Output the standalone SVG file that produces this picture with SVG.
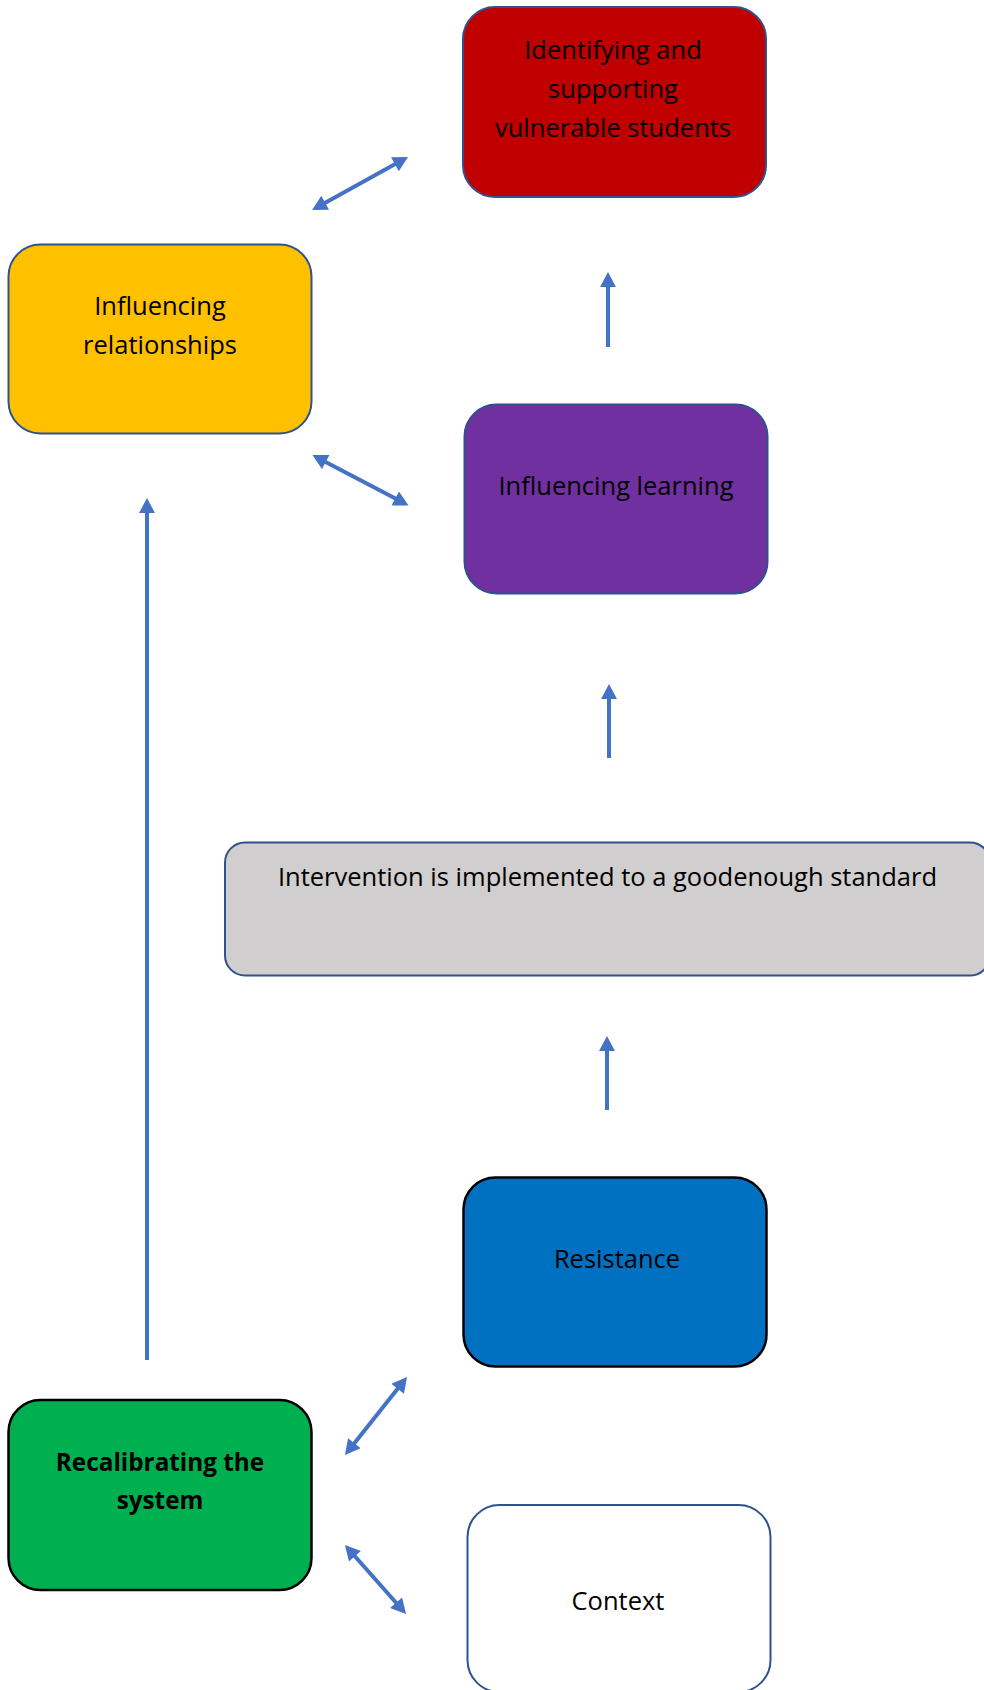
<svg xmlns="http://www.w3.org/2000/svg" width="984" height="1690" viewBox="0 0 984 1690">
<style>
.box{stroke:#2F528F;stroke-width:2}
.dark{stroke:#000;stroke-width:2.5}
.t{font-family:"Open Sans","Noto Sans",sans-serif;font-size:25.5px;fill:#000;text-anchor:middle}
.b{font-weight:bold;font-size:24.3px}
.c{stroke:#4472C4;stroke-width:4;fill:none}
</style>
<defs>
<marker id="ah" markerUnits="userSpaceOnUse" markerWidth="16" markerHeight="16" viewBox="0 0 15 16" refX="5" refY="8" orient="auto-start-reverse">
<path d="M0,0 L15,8 L0,16 z" fill="#4472C4"/>
</marker>
</defs>
<rect width="984" height="1690" fill="#fff"/>
<g id="connectors">
<line class="c" x1="320.8" y1="205.2" x2="399.3" y2="161.8" marker-start="url(#ah)" marker-end="url(#ah)"/>
<line class="c" x1="321.3" y1="459.7" x2="399.7" y2="500.8" marker-start="url(#ah)" marker-end="url(#ah)"/>
<line class="c" x1="351.2" y1="1447.2" x2="400.8" y2="1384.8" marker-start="url(#ah)" marker-end="url(#ah)"/>
<line class="c" x1="351.6" y1="1552.5" x2="399.4" y2="1606.5" marker-start="url(#ah)" marker-end="url(#ah)"/>
<line class="c" x1="608" y1="347" x2="608" y2="282" marker-end="url(#ah)"/>
<line class="c" x1="609" y1="758" x2="609" y2="694" marker-end="url(#ah)"/>
<line class="c" x1="607" y1="1110" x2="607" y2="1046" marker-end="url(#ah)"/>
<line class="c" x1="147" y1="1360" x2="147" y2="508" marker-end="url(#ah)"/>
</g>
<g id="identifying">
<rect class="box" x="463" y="7" width="303" height="190" rx="32" fill="#C00000"/>
<text class="t" x="613" y="59">Identifying and</text>
<text class="t" x="613" y="98">supporting</text>
<text class="t" x="613" y="137">vulnerable students</text>
</g>
<g id="relationships">
<rect class="box" x="8.5" y="244.5" width="303" height="189" rx="32" fill="#FFC000"/>
<text class="t" x="160" y="315">Influencing</text>
<text class="t" x="160" y="354">relationships</text>
</g>
<g id="learning">
<rect class="box" x="464.5" y="404.5" width="303" height="189" rx="32" fill="#7030A0"/>
<text class="t" x="616" y="495">Influencing learning</text>
</g>
<g id="intervention">
<rect class="box" x="225" y="842.5" width="765" height="133" rx="20" fill="#D0CECE"/>
<text class="t" x="607.5" y="886">Intervention is implemented to a goodenough standard</text>
</g>
<g id="resistance">
<rect class="dark" x="463.5" y="1177.5" width="303" height="189" rx="32" fill="#0070C0"/>
<text class="t" x="617" y="1268">Resistance</text>
</g>
<g id="recalibrating">
<rect class="dark" x="8.5" y="1400" width="303" height="190" rx="32" fill="#00B050"/>
<text class="t b" x="160" y="1471">Recalibrating the</text>
<text class="t b" x="160" y="1509">system</text>
</g>
<g id="context">
<rect class="box" x="467.5" y="1505" width="303" height="187" rx="32" fill="#FFFFFF"/>
<text class="t" x="618" y="1610">Context</text>
</g>
</svg>
